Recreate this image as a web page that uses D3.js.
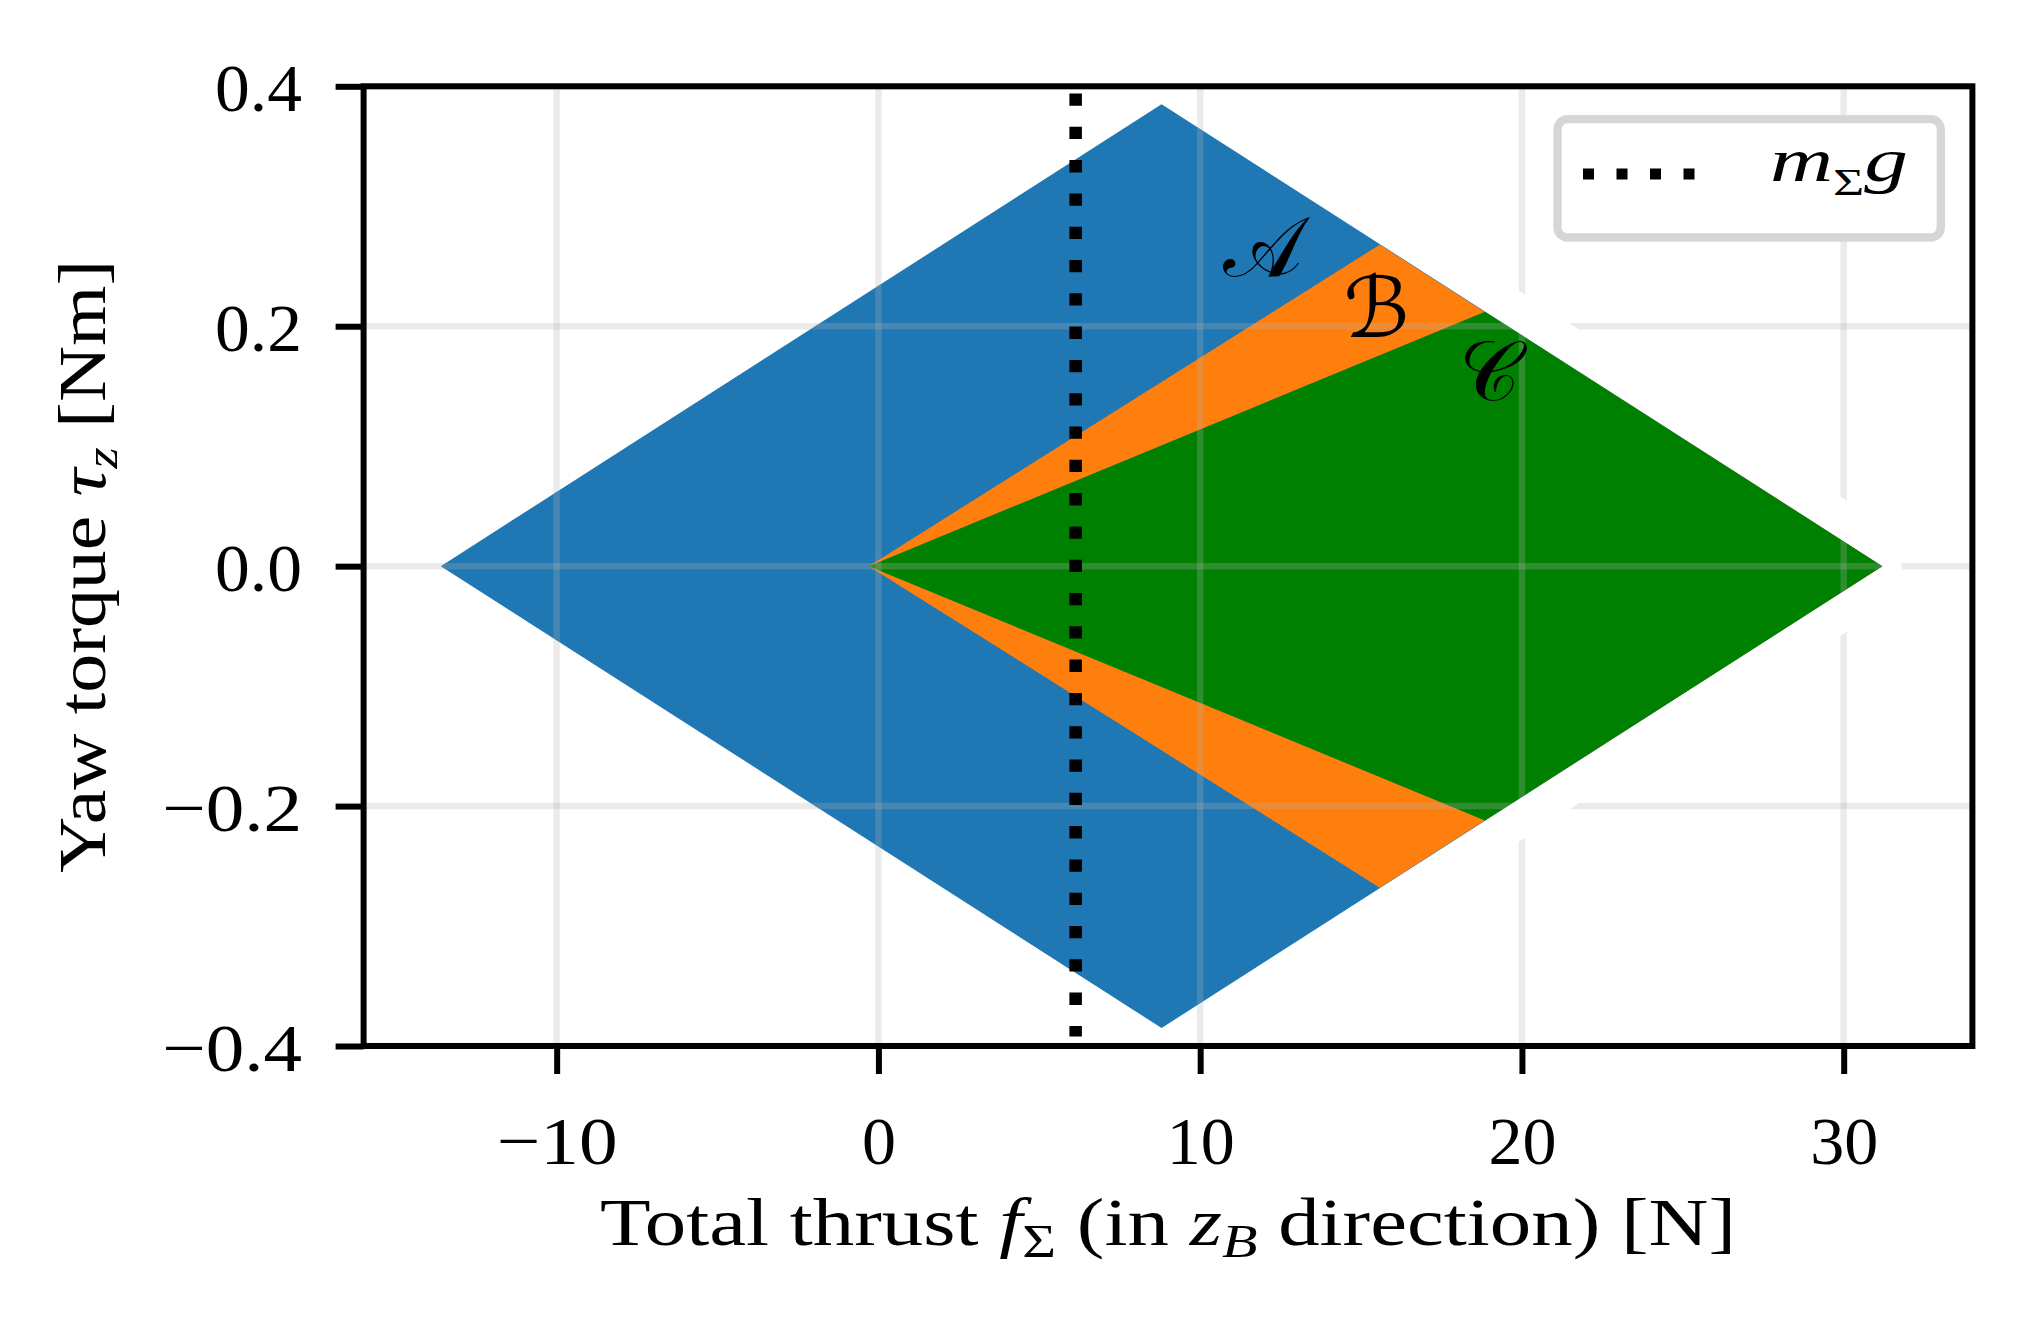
<!DOCTYPE html>
<html><head><meta charset="utf-8">
<script src="https://cdn.jsdelivr.net/npm/d3@7"></script>
<style>body{margin:0;background:#fff}svg{display:block}</style></head>
<body><svg id="c"></svg>
<script>
const W = 2037, H = 1331;
// axis domains and ticks
const xDomain = [-16, 34];
const yDomain = [-0.4, 0.4];
const xTicks = [-10, 0, 10, 20, 30];
const yTicks = [-0.4, -0.2, 0.0, 0.2, 0.4];
// regions (vertices: thrust [N], yaw torque [Nm])
const regionA = [[-13.6, 0], [8.8, 0.385], [31.2, 0], [8.8, -0.385]];
const regionB = [[-0.3, 0], [15.58, 0.268], [31.2, 0], [15.58, -0.268]];
const regionC = [[-0.3, 0], [18.85, 0.212], [31.2, 0], [18.85, -0.212]];
const regionColors = ["#1f77b4", "#ff7f0e", "#008000"];
const labelText = ["\u{1D49C}", "\u212C", "\u{1D49E}"];
const labelX = [11.94, 15.48, 18.99];
const labelY = [0.242, 0.191, 0.1385];
// hover thrust line m_Σ g
const hoverThrust = 6.13;
const hoverY = [0.394, -0.392];

const M = {l: 363.6, r: 1972.4, t: 86.3, b: 1046};
const FONT = "'Liberation Serif', 'Times New Roman', serif";
const TICKFS = 68;

const svg = d3.select("#c").attr("width", W).attr("height", H)
  .style("font-family", FONT);
svg.append("rect").attr("width", W).attr("height", H).attr("fill", "#fff");

const x = d3.scaleLinear().domain(xDomain).range([M.l, M.r]);
const y = d3.scaleLinear().domain(yDomain).range([M.b, M.t]);

function drawGrid(g) {
  g.selectAll(".gx").data(xTicks).join("line")
    .attr("x1", d => x(d)).attr("x2", d => x(d))
    .attr("y1", M.t).attr("y2", M.b);
  g.selectAll(".gy").data(yTicks).join("line")
    .attr("x1", M.l).attr("x2", M.r)
    .attr("y1", d => y(d)).attr("y2", d => y(d));
  g.selectAll("line").attr("stroke", "#b0b0b0").attr("stroke-opacity", 0.26)
    .attr("stroke-width", 6.5);
}

const defs = svg.append("defs");
const line = d3.line().x(d => x(d[0])).y(d => y(d[1]));
defs.append("clipPath").attr("id", "clipA").append("path")
  .attr("d", line(regionA) + "Z");

// grid under
drawGrid(svg.append("g"));
// white band along outer edge of region C
svg.append("path").attr("d", line(regionC.slice(1)))
  .attr("fill", "none").attr("stroke", "#fff").attr("stroke-width", 72)
  .attr("stroke-linejoin", "bevel").attr("stroke-linecap", "butt");

// regions
const regions = [regionA, regionB, regionC];
svg.append("g").selectAll("path").data(regions).join("path")
  .attr("d", d => line(d) + "Z")
  .attr("fill", (d, i) => regionColors[i]);

// grid over regions
drawGrid(svg.append("g").attr("clip-path", "url(#clipA)"));

// hover line
svg.append("line")
  .attr("x1", x(hoverThrust)).attr("x2", x(hoverThrust))
  .attr("y1", y(hoverY[0])).attr("y2", y(hoverY[1]))
  .attr("stroke", "#000").attr("stroke-width", 12.5)
  .attr("stroke-dasharray", "12.3 21");

// region labels
svg.append("g").selectAll("text").data(labelText).join("text")
  .attr("x", (d, i) => x(labelX[i])).attr("y", (d, i) => y(labelY[i]))
  .attr("text-anchor", "middle")
  .attr("font-family", "'DejaVu Serif', 'DejaVu Sans', serif")
  .attr("font-size", 84).text(d => d);

// width of a label in Computer-Modern-like metrics
function cmWidth(s, fs) {
  let w = 0;
  for (const ch of s) w += ch === "." ? 0.278 : (ch === "\u2212" ? 0.778 : 0.5);
  return w * fs;
}

// axes
const fmtY = d3.format(".1f");
const fmtX = d3.format("d");
const gx = svg.append("g").attr("transform", `translate(0,${M.b})`)
  .call(d3.axisBottom(x).tickValues(xTicks).tickSize(28).tickFormat(fmtX));
const gy = svg.append("g").attr("transform", `translate(${M.l},0)`)
  .call(d3.axisLeft(y).tickValues(yTicks).tickSize(28).tickFormat(fmtY));
[gx, gy].forEach(g => {
  g.select(".domain").remove();
  g.selectAll(".tick line").attr("stroke", "#000").attr("stroke-width", 6);
  g.selectAll(".tick text").attr("fill", "#000").attr("font-size", TICKFS)
    .attr("font-family", FONT)
    .attr("lengthAdjust", "spacingAndGlyphs")
    .attr("textLength", function () { return cmWidth(this.textContent, TICKFS); });
});
gx.selectAll(".tick text").attr("y", 118).attr("dy", 0);
gy.selectAll(".tick text").attr("x", -61.6).attr("dy", 24);

// spines
svg.append("rect").attr("x", M.l).attr("y", M.t)
  .attr("width", M.r - M.l).attr("height", M.b - M.t)
  .attr("fill", "none").attr("stroke", "#000").attr("stroke-width", 6);

// x label
const xl = svg.append("text").attr("x", (M.l + M.r) / 2).attr("y", 1245)
  .attr("text-anchor", "middle").attr("font-size", 67)
  .attr("textLength", 1136).attr("lengthAdjust", "spacingAndGlyphs");
xl.append("tspan").text("Total thrust ");
xl.append("tspan").attr("font-style", "italic").text("f");
xl.append("tspan").attr("font-size", 47).attr("dy", 12).text("Σ");
xl.append("tspan").attr("dy", -12).text(" (in ");
xl.append("tspan").attr("font-style", "italic").text("z");
xl.append("tspan").attr("font-style", "italic").attr("font-size", 47).attr("dy", 12).text("B");
xl.append("tspan").attr("dy", -12).text(" direction) [N]");

// y label
const yl = svg.append("text")
  .attr("transform", `translate(105,${(M.t + M.b) / 2}) rotate(-90)`)
  .attr("text-anchor", "middle").attr("font-size", 67)
  .attr("textLength", 613).attr("lengthAdjust", "spacingAndGlyphs");
yl.append("tspan").text("Yaw torque ");
yl.append("tspan").attr("font-style", "italic").text("τ");
yl.append("tspan").attr("font-style", "italic").attr("font-size", 47).attr("dy", 12).text("z");
yl.append("tspan").attr("dy", -12).text("  [Nm]");

// legend
const lg = svg.append("g");
lg.append("rect").attr("x", 1557.5).attr("y", 119.2).attr("width", 383.3).attr("height", 118.3)
  .attr("rx", 10).attr("fill", "#fff").attr("stroke", "#d6d6d6").attr("stroke-width", 8.3);
lg.append("line").attr("x1", 1583).attr("x2", 1717).attr("y1", 174).attr("y2", 174)
  .attr("stroke", "#000").attr("stroke-width", 11).attr("stroke-dasharray", "11 22.5");
const lt = lg.append("text").attr("x", 1770).attr("y", 181).attr("font-size", 62)
  .attr("font-style", "italic")
  .attr("textLength", 138).attr("lengthAdjust", "spacingAndGlyphs");
lt.append("tspan").text("m");
lt.append("tspan").attr("font-style", "normal").attr("font-size", 38).attr("dy", 14).text("Σ");
lt.append("tspan").attr("dy", -14).text("g");
</script>
</body></html>
